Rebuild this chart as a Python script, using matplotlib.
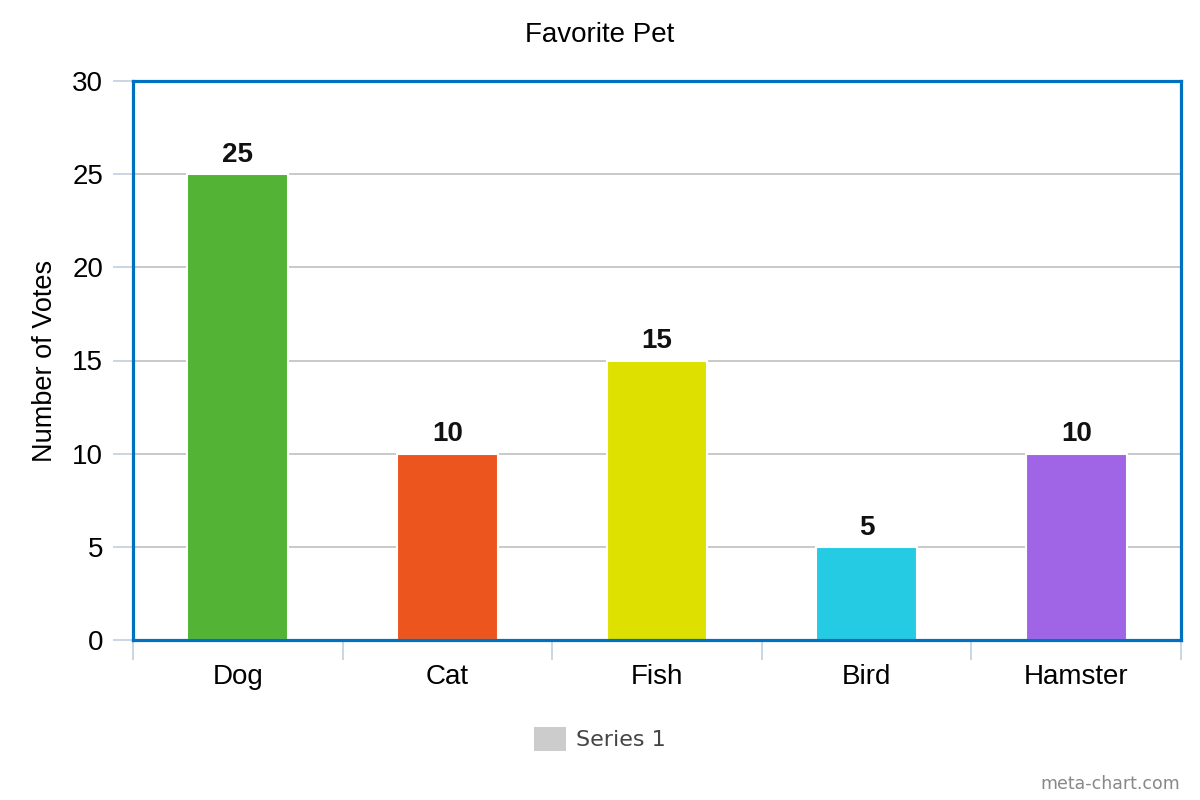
import matplotlib
matplotlib.use("Agg")
import matplotlib.pyplot as plt
from matplotlib.patches import Patch
import numpy as np

categories = ["Dog", "Cat", "Fish", "Bird", "Hamster"]
votes = [25, 10, 15, 5, 10]
colors = ["#52b335", "#ec561e", "#dee000", "#24cbe3", "#9f65e6"]
yticks = [0, 5, 10, 15, 20, 25, 30]

plt.rcParams['font.family'] = ['Liberation Sans', 'DejaVu Sans']

fig = plt.figure(figsize=(12, 8), dpi=100)
ax = fig.add_axes([133/1200, 1 - 640/800, (1181 - 133)/1200, (640 - 81)/800])

x = np.arange(len(categories))
bars = ax.bar(x, votes, width=0.48, color=colors, edgecolor="white", linewidth=1.5, zorder=3)
for xi, v in zip(x, votes):
    ax.annotate(str(v), (xi, v), xytext=(0, 4.5), textcoords="offset points",
                ha="center", va="bottom", fontsize=20, fontweight="bold", color="#111111")

ax.set_xlim(-0.5, len(categories) - 0.5)
ax.set_ylim(0, 30)
ax.set_yticks(yticks)
ax.set_yticklabels([str(t) for t in yticks], fontsize=20)
ax.set_xticks(x)
ax.set_xticklabels(categories, fontsize=20)
ax.set_xticks(np.arange(-0.5, len(categories)), minor=True)
ax.tick_params(axis="x", which="major", length=0, pad=17)
ax.tick_params(axis="x", which="minor", length=14.5, width=1.2, color="#c0d0e0")
ax.tick_params(axis="y", which="major", length=14.5, width=1.2, color="#c0d0e0", pad=7)

ax.yaxis.grid(True, color="#c0c0c0", linewidth=1.2, zorder=1)
ax.set_axisbelow(True)
for s in ax.spines.values():
    s.set_color("#0070c0")
    s.set_linewidth(2.3)
    s.set_zorder(4)

ax.set_ylabel("Number of Votes", fontsize=19.5, labelpad=10)
fig.text(600/1200, 1 - 35/800, "Favorite Pet", ha="center", va="center", fontsize=20)

handle = Patch(facecolor="#cccccc", edgecolor="none")
leg = fig.legend([handle], ["Series 1"], loc="center", bbox_to_anchor=(600/1200, 1 - 739/800),
                 frameon=False, handlelength=1.45, handleheight=1.3, handletextpad=0.45,
                 prop={"family": "DejaVu Sans", "size": 16})
for t in leg.get_texts():
    t.set_color("#444444")

fig.text(1180/1200, 1 - 784/800, "meta-chart.com", ha="right", va="center",
         fontsize=12.5, color="#888888", family="DejaVu Sans")

fig.savefig("out.png", dpi=100)
